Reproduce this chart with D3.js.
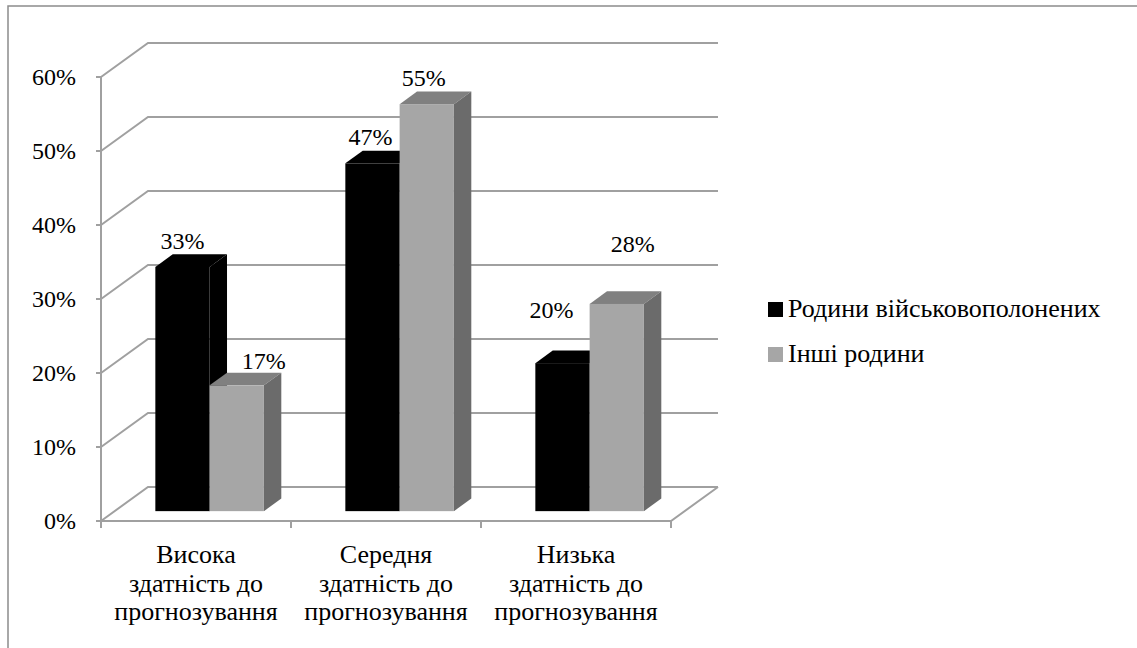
<!DOCTYPE html>
<html>
<head>
<meta charset="utf-8">
<script src="https://cdn.jsdelivr.net/npm/d3@7"></script>
<style>
  body { margin: 0; background: #fff; }
</style>
</head>
<body>
<script>
// chart data
var categories = ["Висока\nздатність до\nпрогнозування",
                  "Середня\nздатність до\nпрогнозування",
                  "Низька\nздатність до\nпрогнозування"];
var seriesNames = ["Родини військовополонених", "Інші родини"];
var powFamilies = [0.33, 0.47, 0.20];
var otherFamilies = [0.17, 0.55, 0.28];
var yTicks = [0, 0.1, 0.2, 0.3, 0.4, 0.5, 0.6];

// excel puts the 3d data labels a bit off, nudge them (px)
var labelNudge = [[0, 0], [27, 2], [-2, 0], [-3, 0], [-11, -27], [16, -34]];

const W = 1137, H = 648;
const FONT = "'Liberation Serif'";
const plot = {left: 101, right: 671, top: 77, bottom: 521};
const depth = {dx: 47, dy: -34};   // back wall offset
const barZ = [0.29, 0.66];         // bar front / back depth fraction

const gridColor = "#a0a0a0";
const faces = [
  {front: "#000000", top: "#000000", side: "#000000"},
  {front: "#a6a6a6", top: "#808080", side: "#6b6b6b"}
];

var svg = d3.select("body").append("svg")
    .attr("width", W)
    .attr("height", H);

// outer frame
svg.append("rect")
    .attr("x", 8).attr("y", 6)
    .attr("width", W + 20).attr("height", H + 20)
    .style("fill", "none")
    .style("stroke", "#8c8c8c")
    .style("stroke-width", 1.5);

var x = d3.scaleBand().domain(d3.range(categories.length)).range([plot.left, plot.right]);
var xSub = d3.scaleBand().domain(d3.range(seriesNames.length))
    .range([0, x.bandwidth()]).paddingOuter(0.75).paddingInner(0);
var y = d3.scaleLinear().domain([0, 0.6]).range([plot.bottom, plot.top]);

// project front-plane point to a depth fraction z
function pt(px, py, z) {
  return [px + z * depth.dx, py + z * depth.dy];
}

var line = d3.line();

// walls: gridlines on back and left wall
var grid = svg.append("g")
    .style("stroke", gridColor)
    .style("stroke-width", 2)
    .style("fill", "none");

yTicks.forEach(function(t) {
  var a = pt(plot.left, y(t), 0), b = pt(plot.left, y(t), 1), c = pt(plot.right, y(t), 1);
  grid.append("path").attr("d", line([a, b, c]));
});

// floor
grid.append("path").attr("d", line([
  pt(plot.left, y(0), 0), pt(plot.right, y(0), 0), pt(plot.right, y(0), 1)
]));

// vertical axis
grid.append("line")
    .attr("x1", plot.left).attr("x2", plot.left)
    .attr("y1", y(0.6)).attr("y2", y(0));

// y ticks
yTicks.forEach(function(t) {
  grid.append("line")
      .attr("x1", plot.left - 5).attr("x2", plot.left)
      .attr("y1", y(t)).attr("y2", y(t));
});

// category ticks
d3.range(categories.length + 1).forEach(function(i) {
  var xx = plot.left + i * x.bandwidth();
  grid.append("line")
      .attr("x1", xx).attr("x2", xx)
      .attr("y1", plot.bottom).attr("y2", plot.bottom + 7);
});

// y labels
svg.append("g").selectAll("text")
    .data(yTicks)
    .enter().append("text")
    .attr("x", 76)
    .attr("y", function(d) { return y(d) + 8; })
    .attr("text-anchor", "end")
    .style("font-family", FONT)
    .style("font-size", "24px")
    .style("fill", "#000")
    .text(function(d) { return Math.round(d * 100) + "%"; });

// category labels
categories.forEach(function(c, i) {
  var t = svg.append("text")
      .attr("text-anchor", "middle")
      .style("font-family", FONT)
      .style("font-size", "26px")
      .style("fill", "#000");
  c.split("\n").forEach(function(ln, j) {
    t.append("tspan")
        .attr("x", x(i) + x.bandwidth() / 2)
        .attr("y", 563 + j * 28.5)
        .text(ln);
  });
});

// bars
var allSeries = [powFamilies, otherFamilies];
var bars = svg.append("g");
var labels = [];

categories.forEach(function(c, i) {
  allSeries.forEach(function(vals, s) {
    var v = vals[i];
    var x0 = x(i) + xSub(s), x1 = x0 + xSub.bandwidth();
    var yt = y(v), yb = y(0);
    var f = faces[s];

    // top face
    bars.append("path")
        .attr("d", line([pt(x0, yt, barZ[0]), pt(x1, yt, barZ[0]), pt(x1, yt, barZ[1]), pt(x0, yt, barZ[1])]) + "Z")
        .style("fill", f.top);
    // right side face
    bars.append("path")
        .attr("d", line([pt(x1, yt, barZ[0]), pt(x1, yt, barZ[1]), pt(x1, yb, barZ[1]), pt(x1, yb, barZ[0])]) + "Z")
        .style("fill", f.side);
    // front face
    var fp = pt(x0, yt, barZ[0]);
    bars.append("rect")
        .attr("x", fp[0])
        .attr("y", fp[1])
        .attr("width", xSub.bandwidth())
        .attr("height", yb - yt)
        .style("fill", f.front);

    labels.push({v: v, x: fp[0] + xSub.bandwidth() / 2, y: fp[1] - 26});
  });
});

// data labels
svg.append("g").selectAll("text")
    .data(labels)
    .enter().append("text")
    .attr("x", function(d, i) { return d.x + labelNudge[i][0]; })
    .attr("y", function(d, i) { return d.y + labelNudge[i][1] + 8; })
    .attr("text-anchor", "middle")
    .style("font-family", FONT)
    .style("font-size", "24px")
    .style("fill", "#000")
    .text(function(d) { return Math.round(d.v * 100) + "%"; });

// legend
var legend = svg.append("g");
seriesNames.forEach(function(name, i) {
  var ly = 317 + i * 45;
  legend.append("rect")
      .attr("x", 768).attr("y", ly - 15)
      .attr("width", 15).attr("height", 15)
      .style("fill", faces[i].front);
  legend.append("text")
      .attr("x", 788).attr("y", ly)
      .style("font-family", FONT)
      .style("font-size", "26px")
      .style("fill", "#000")
      .text(name);
});
</script>
</body>
</html>
